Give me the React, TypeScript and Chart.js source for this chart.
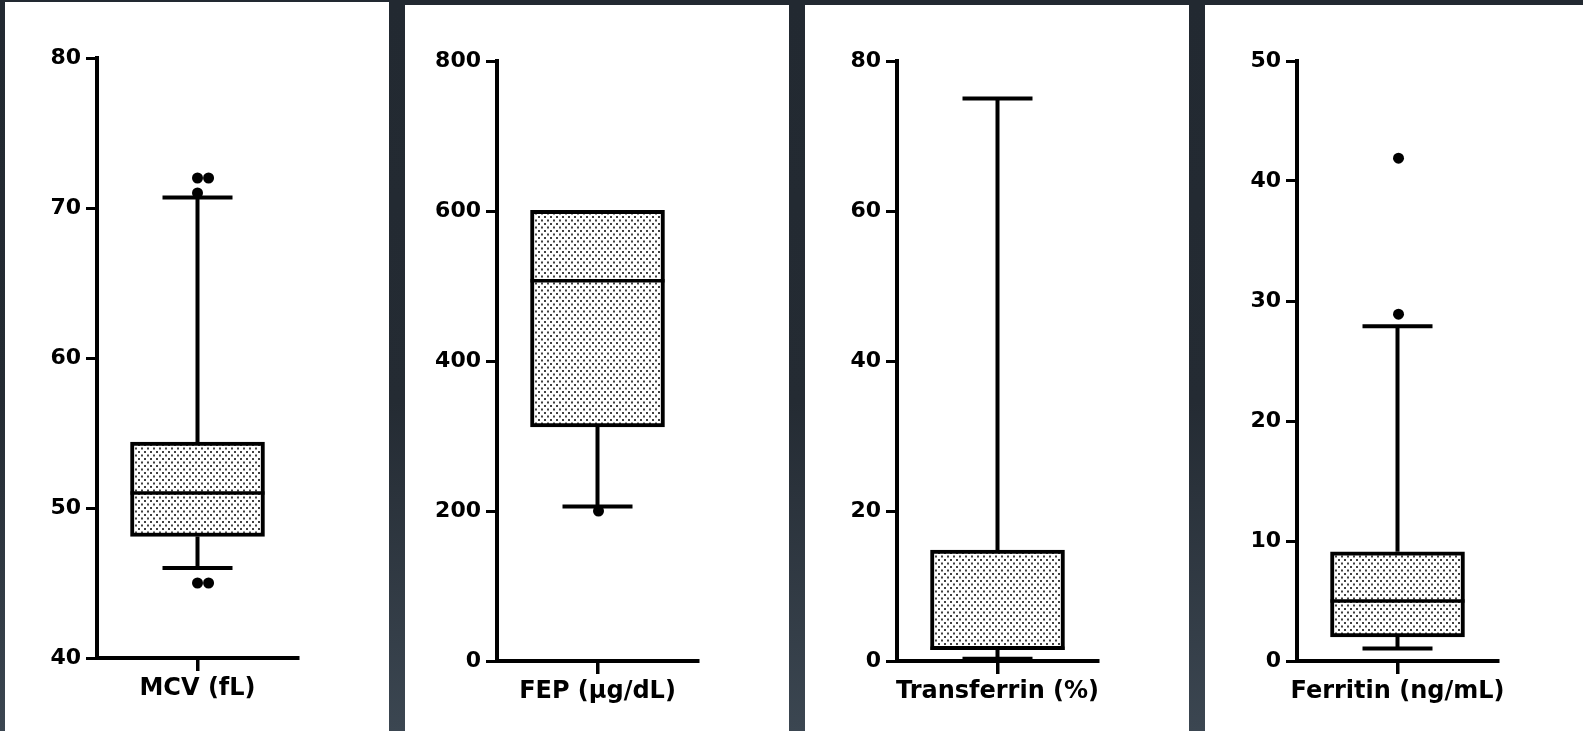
import React, { useEffect, useRef } from 'react';
import { Chart, registerables } from 'chart.js';

Chart.register(...registerables);

// ---- Data ----
const categories = ['MCV (fL)', 'FEP (μg/dL)', 'Transferrin (%)', 'Ferritin (ng/mL)'];
const whiskerLow = [46, 206, 0.3, 1.05];
const quartile1 = [48.1, 312, 1.5, 2.0];
const medians = [51, 507, 1.7, 5];
const quartile3 = [54.4, 601, 14.8, 9.1];
const whiskerHigh = [70.7, 601, 75, 27.9];

const mcvOutliers = [72, 72, 71, 45, 45];
const mcvOutlierX = [1, 1.11, 1, 1, 1.11];
const fepOutliers = [200];
const fepOutlierX = [1.01];
const transferrinOutliers: number[] = [];
const transferrinOutlierX: number[] = [];
const ferritinOutliers = [41.9, 28.9];
const ferritinOutlierX = [1.01, 1.01];

const yMin = [40, 0, 0, 0];
const yMax = [80, 800, 80, 50];
const yStep = [10, 200, 20, 10];

const outlierValues = [mcvOutliers, fepOutliers, transferrinOutliers, ferritinOutliers];
const outlierXs = [mcvOutlierX, fepOutlierX, transferrinOutlierX, ferritinOutlierX];

// ---- Layout / style ----
const panelLeft = [5, 405, 805, 1205];
const panelTop = [2, 5, 5, 5];
const panelWidth = [384, 384, 384, 378];
const CANVAS_H = 722;
const AREA_TOP = 56;
const AREA_H = 600;
const AREA_LEFT = 92;
const AREA_W = 201;
const FONT = "'DejaVu Sans', sans-serif";

const boxPlugin = {
  id: 'boxWhiskers',
  afterDatasetDraw(chart: any, args: any, opts: any) {
    if (args.index !== 0) return;
    const el = args.meta.data[0];
    if (!el) return;
    const y = chart.scales.y;
    const ctx = chart.ctx;
    const cx = el.x;
    const half = el.width / 2;
    const capHalf = opts.capWidth / 2;
    ctx.save();
    ctx.strokeStyle = '#000';
    ctx.lineCap = 'butt';
    ctx.lineWidth = opts.lineWidth;
    const yq1 = y.getPixelForValue(opts.q1);
    const yq3 = y.getPixelForValue(opts.q3);
    if (opts.high > opts.q3) {
      const yh = y.getPixelForValue(opts.high);
      ctx.beginPath();
      ctx.moveTo(cx, yq3);
      ctx.lineTo(cx, yh);
      ctx.moveTo(cx - capHalf, yh);
      ctx.lineTo(cx + capHalf, yh);
      ctx.stroke();
    }
    if (opts.low < opts.q1) {
      const yl = y.getPixelForValue(opts.low);
      ctx.beginPath();
      ctx.moveTo(cx, yq1);
      ctx.lineTo(cx, yl);
      ctx.moveTo(cx - capHalf, yl);
      ctx.lineTo(cx + capHalf, yl);
      ctx.stroke();
    }
    const ym = y.getPixelForValue(opts.median);
    ctx.lineWidth = opts.medianWidth;
    ctx.beginPath();
    ctx.moveTo(cx - half, ym);
    ctx.lineTo(cx + half, ym);
    ctx.stroke();
    ctx.restore();
  },
};

function BoxPanel({ i }: { i: number }) {
  const ref = useRef<HTMLCanvasElement>(null);
  const W = panelWidth[i];
  useEffect(() => {
    const canvas = ref.current;
    if (!canvas) return;
    const ctx = canvas.getContext('2d');
    if (!ctx) return;
    const tile = document.createElement('canvas');
    tile.width = 6;
    tile.height = 7;
    const t = tile.getContext('2d')!;
    t.fillStyle = '#ffffff';
    t.fillRect(0, 0, 6, 7);
    t.fillStyle = '#404040';
    t.fillRect(1, 1, 2, 2);
    t.fillRect(4, 4.5, 2, 2);
    const pattern = ctx.createPattern(tile, 'repeat');

    const outY = outlierValues[i];
    const outX = outlierXs[i];

    const chart = new Chart(ctx, {
      type: 'bar',
      data: {
        datasets: [
          {
            type: 'bar',
            data: [{ x: 1, y: [quartile1[i], quartile3[i]] }],
            backgroundColor: pattern,
            borderColor: '#000',
            borderWidth: 4,
            borderSkipped: false,
            barThickness: 134,
            order: 1,
          } as any,
          {
            type: 'scatter',
            data: outY.map((v, k) => ({ x: outX[k], y: v })),
            pointRadius: 5.5,
            pointBackgroundColor: '#000',
            pointBorderWidth: 0,
            order: 0,
          } as any,
        ],
      },
      options: {
        animation: false,
        responsive: false,
        devicePixelRatio: 1,
        events: [],
        layout: { padding: { top: AREA_TOP, left: 0, right: W - AREA_LEFT - AREA_W, bottom: 0 } },
        plugins: {
          legend: { display: false },
          tooltip: { enabled: false },
          boxWhiskers: {
            q1: quartile1[i],
            q3: quartile3[i],
            median: medians[i],
            low: whiskerLow[i],
            high: whiskerHigh[i],
            capWidth: 70,
            lineWidth: 4,
            medianWidth: 3.5,
          },
        } as any,
        scales: {
          x: {
            type: 'linear',
            min: 0,
            max: 2,
            offset: false,
            afterBuildTicks: (a: any) => {
              a.ticks = [{ value: 1 }];
            },
            afterFit: (s: any) => {
              s.height = CANVAS_H - AREA_TOP - AREA_H;
            },
            ticks: {
              callback: () => categories[i],
              font: { family: FONT, size: 24, weight: 'bold' },
              color: '#000',
              padding: 3,
              maxRotation: 0,
              autoSkip: false,
            },
            grid: {
              offset: false,
              drawOnChartArea: false,
              drawTicks: true,
              tickLength: 13,
              lineWidth: 3.5,
              color: '#000',
            },
            border: { display: true, color: '#000', width: 4 },
          },
          y: {
            type: 'linear',
            min: yMin[i],
            max: yMax[i],
            afterFit: (s: any) => {
              s.width = AREA_LEFT;
            },
            ticks: {
              stepSize: yStep[i],
              font: { family: FONT, size: 22, weight: 'bold' },
              color: '#000',
              padding: 5,
            },
            grid: { drawOnChartArea: false, drawTicks: true, tickLength: 11, lineWidth: 3, color: '#000' },
            border: { display: true, color: '#000', width: 4 },
          },
        } as any,
      },
      plugins: [boxPlugin as any],
    });
    return () => chart.destroy();
  }, [i, W]);

  return (
    <div
      style={{
        position: 'absolute',
        left: panelLeft[i],
        top: panelTop[i],
        width: W,
        height: 731 - panelTop[i],
        background: '#ffffff',
        overflow: 'hidden',
      }}
    >
      <canvas ref={ref} width={W} height={CANVAS_H} style={{ display: 'block', width: W, height: CANVAS_H }} />
    </div>
  );
}

export default function App() {
  return (
    <div
      style={{
        position: 'fixed',
        left: 0,
        top: 0,
        width: 1583,
        height: 731,
        overflow: 'hidden',
        background: 'linear-gradient(to bottom, #222931 0%, #242b33 55%, #3b4651 100%)',
      }}
    >
      {categories.map((_, i) => (
        <BoxPanel key={i} i={i} />
      ))}
    </div>
  );
}
